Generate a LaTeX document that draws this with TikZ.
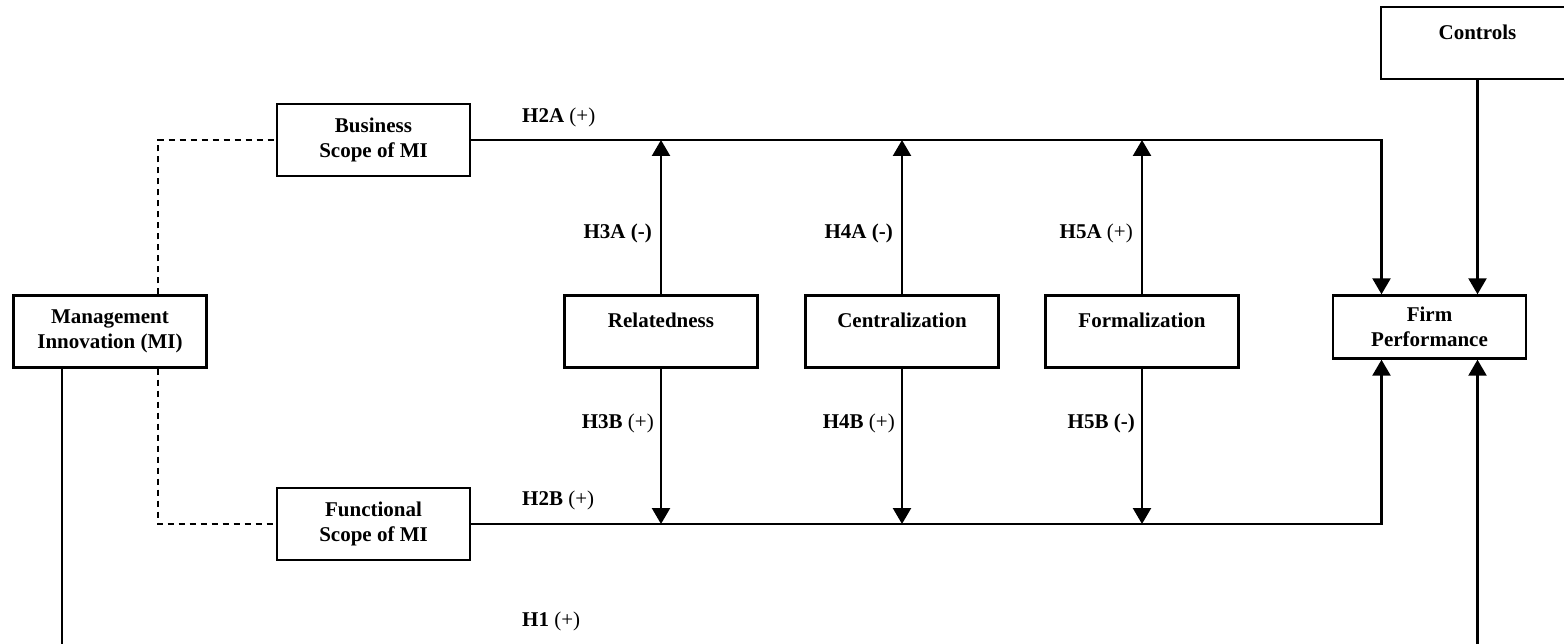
\documentclass[tikz,border=0pt]{standalone}
\usepackage{fontspec}
\setmainfont{Liberation Serif}
\usetikzlibrary{arrows.meta,calc}
\begin{document}
\begin{tikzpicture}[x=1pt,y=-1pt,
  box/.style={draw,line width=2.4pt,minimum width=193pt,minimum height=72pt,inner sep=0pt,align=center,font=\fontsize{21}{25}\selectfont\bfseries},
  lbl/.style={inner sep=0pt,font=\fontsize{21}{25}\selectfont},
  conn/.style={line width=2.4pt},
  arr/.style={line width=2.4pt,-{Triangle[width=18pt,length=16pt]}},
  dsh/.style={line width=2.2pt,dash pattern=on 6pt off 5pt}]
\useasboundingbox (0,0) rectangle (1564,644);
% nodes
\node[box] (ctrl) at (1477.5,43) {\rule{0pt}{18pt}Controls\\\phantom{X}};
\node[box] (biz) at (373.5,140) {Business\\Scope of MI};
\node[box] (func) at (373.5,524) {Functional\\Scope of MI};
\node[box] (mi) at (110,331.5) {Management\\Innovation (MI)};
\node[box] (rel) at (661,331.5) {\rule{0pt}{17pt}Relatedness\\\phantom{X}};
\node[box] (cen) at (902,331.5) {\rule{0pt}{17pt}Centralization\\\phantom{X}};
\node[box] (form) at (1142,331.5) {\rule{0pt}{17pt}Formalization\\\phantom{X}};
\node[box,minimum height=63pt] (firm) at (1429.5,327) {Firm\\Performance};
\coordinate (bl) at (62,660);
\coordinate (br) at (1477.5,660);
% main paths
\draw[arr] (biz.east) -| ([xshift=-48pt]firm.north);
\draw[arr] (ctrl.south) -- ([xshift=48pt]firm.north);
\draw[arr] (func.east) -| ([xshift=-48pt]firm.south);
\draw[conn] ([xshift=-48pt]mi.south) -- (bl);
\draw[arr] (br) -- ([xshift=48pt]firm.south);
\draw[dsh] ([xshift=48pt]mi.north) |- (biz.west);
\draw[dsh] ([xshift=48pt]mi.south) |- (func.west);
% moderators
\foreach \n in {rel,cen,form}{
  \draw[arr] (\n.north) -- (\n.north |- biz.east);
  \draw[arr] (\n.south) -- (\n.south |- func.east);
}
% labels
\node[lbl,anchor=west] (l2a) at (522,117) {\textbf{H2A} (+)};
\node[lbl,anchor=west] (l2b) at (522,500) {\textbf{H2B} (+)};
\node[lbl,anchor=west] (l1) at (522,621) {\textbf{H1} (+)};
\node[lbl,anchor=east] (l3a) at (652,233) {\textbf{H3A (-)}};
\node[lbl,anchor=east] (l4a) at (893,233) {\textbf{H4A (-)}};
\node[lbl,anchor=east] (l5a) at (1133,233) {\textbf{H5A} (+)};
\node[lbl,anchor=east] (l3b) at (654,423) {\textbf{H3B} (+)};
\node[lbl,anchor=east] (l4b) at (895,423) {\textbf{H4B} (+)};
\node[lbl,anchor=east] (l5b) at (1135,423) {\textbf{H5B (-)}};
\end{tikzpicture}
\end{document}
